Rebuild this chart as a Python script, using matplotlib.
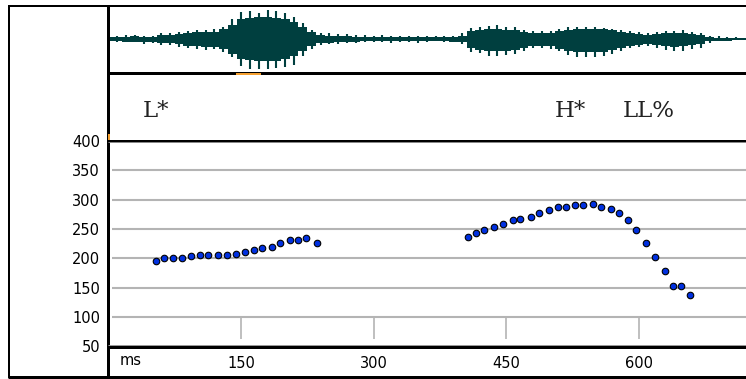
import matplotlib
matplotlib.use('Agg')
import matplotlib.pyplot as plt
from matplotlib.lines import Line2D

W, H = 746, 379

# pitch track (ms, Hz)
ms_1 = [54, 63, 73, 83, 94, 104, 113, 124, 134, 144, 154, 165, 174, 185, 194, 205, 215, 224, 236]
hz_1 = [196, 201, 201, 200, 204, 205, 205, 205, 205, 207, 211, 215, 218, 220, 227, 231, 231, 235, 227]
ms_2 = [407, 416, 425, 436, 446, 457, 466, 478, 487, 498, 508, 518, 528, 537, 548, 557, 568, 577,
        588, 597, 608, 618, 629, 638, 647, 658]
hz_2 = [237, 243, 248, 254, 258, 265, 268, 271, 278, 282, 288, 288, 291, 291, 292, 288, 285, 278,
        265, 248, 227, 203, 179, 153, 153, 137]

# tone labels
tone_text = ['L*', 'H*', 'LL%']
tone_ms = [39, 505, 582]

y_ticks = [400, 350, 300, 250, 200, 150, 100, 50]
x_ticks = [150, 300, 450, 600]

# waveform envelope every 10 ms (pixels above / below the centre line)
wave_ms = [0, 10, 20, 30, 40, 50, 60, 70, 80, 90,
           100, 110, 120, 130, 140, 150, 160, 170, 180, 190,
           200, 210, 220, 230, 240, 250, 260, 270, 280, 290,
           300, 310, 320, 330, 340, 350, 360, 370, 380, 390,
           400, 410, 420, 430, 440, 450, 460, 470, 480, 490,
           500, 510, 520, 530, 540, 550, 560, 570, 580, 590,
           600, 610, 620, 630, 640, 650, 660, 670, 680, 690,
           700, 710, 720]
body_top = [2, 2, 2.5, 3, 2.5, 2.5, 4, 4, 5, 6,
            7, 7, 7, 10, 14, 20, 21, 22, 22, 21,
            20, 17, 12, 7, 4, 3.5, 3.5, 3, 2.5, 2,
            2, 2, 2, 2, 2, 2, 2, 2, 2, 2,
            3, 8, 9, 10, 10, 9, 9, 7, 6, 6,
            6, 8, 9, 10, 10, 10, 10, 9, 7, 6,
            5, 4, 5, 6, 6, 6, 5, 4, 2, 1.5,
            1.5, 1, 1]
body_bot = [2, 2, 2.5, 2.5, 2.5, 3, 4, 4, 5, 7,
            7, 8, 8, 10, 15, 20, 21, 22, 22, 22,
            20, 17, 12, 7, 4, 3.5, 3, 3, 2.5, 2,
            2, 2, 2, 2, 2, 2, 2, 2, 2, 2.5,
            3, 9, 11, 12, 12, 12, 11, 9, 7, 7,
            7, 10, 12, 13, 13, 13, 13, 11, 9, 7,
            6, 5, 6, 7, 8, 7, 6, 5, 2, 1.5,
            1.5, 1, 1]
peak_top = [2, 3, 4, 4, 3, 3, 6, 6, 7, 8,
            9, 9, 10, 12, 20, 27, 28, 26, 29, 28,
            26, 22, 16, 9, 6, 6, 5, 5, 4, 4,
            3, 4, 3, 3, 3, 3, 3, 3, 3, 3,
            6, 11, 12, 13, 14, 12, 12, 9, 8, 8,
            8, 10, 12, 12, 12, 12, 11, 10, 9, 8,
            7, 6, 7, 8, 8, 9, 7, 6, 3, 3,
            2, 2, 1]
peak_bot = [2, 3, 2, 3, 5, 4, 6, 6, 8, 9,
            10, 11, 10, 13, 18, 27, 30, 30, 30, 29,
            28, 26, 17, 10, 6, 5, 5, 4, 4, 3,
            3, 3, 4, 3, 3, 4, 3, 2, 3, 3,
            5, 13, 14, 17, 17, 16, 15, 12, 9, 9,
            10, 12, 16, 18, 18, 18, 17, 15, 12, 9,
            8, 7, 9, 11, 12, 12, 10, 9, 4, 2,
            2, 1, 1]

WAVE = '#003f3f'
GRID = '#b4b4b4'
MS_MAX = 721

fig = plt.figure(figsize=(W / 100, H / 100), dpi=100)
fig.patch.set_facecolor('white')


def px_axes(x0, y0, x1, y1):
    return fig.add_axes([x0 / W, 1 - y1 / H, (x1 - x0) / W, (y1 - y0) / H])


def hline(y, x0, x1, lw, color='black'):
    fig.add_artist(Line2D([x0 / W, x1 / W], [1 - y / H, 1 - y / H], lw=lw * 0.72,
                          color=color, solid_capstyle='butt'))


def vline(x, y0, y1, lw, color='black'):
    fig.add_artist(Line2D([x / W, x / W], [1 - y0 / H, 1 - y1 / H], lw=lw * 0.72,
                          color=color, solid_capstyle='butt'))


# waveform panel
ax_w = px_axes(108.3, 7, W, 71)
ax_w.set_xlim(0, MS_MAX)
ax_w.set_ylim(-31.7, 32.3)
ax_w.axis('off')
ax_w.fill_between(wave_ms, [-b for b in body_bot], body_top, color=WAVE, lw=0, step='mid')
ax_w.vlines(wave_ms, [-b for b in peak_bot], peak_top, color=WAVE, lw=1.5)

# tone label panel
ax_l = px_axes(108.3, 71, W, 141)
ax_l.set_xlim(0, MS_MAX)
ax_l.set_ylim(141, 71)
ax_l.axis('off')
for t, m in zip(tone_text, tone_ms):
    ax_l.text(m, 117, t, family='DejaVu Serif', fontsize=16.5, va='baseline', ha='left',
              color='#222222')

# pitch panel
ax = px_axes(108.3, 141, W, 346.5)
ax.set_xlim(0, MS_MAX)
ax.set_ylim(50, 400)
for s in ax.spines.values():
    s.set_visible(False)
ax.hlines(y_ticks[1:-1], 4, MS_MAX, color=GRID, lw=1.5)
ax.vlines(x_ticks, 62, 100, color=GRID, lw=1.2)
ax.plot(ms_1, hz_1, 'o', ms=4.7, mfc='#0030e0', mec='black', mew=0.8)
ax.plot(ms_2, hz_2, 'o', ms=4.7, mfc='#0030e0', mec='black', mew=0.8)
ax.set_yticks(y_ticks)
ax.set_yticklabels([str(v) for v in y_ticks])
ax.set_xticks(x_ticks)
ax.set_xticklabels([str(v) for v in x_ticks])
ax.tick_params(axis='y', length=0, pad=6, labelsize=10.5)
ax.tick_params(axis='x', length=0, pad=7, labelsize=10.5)
ax.text(13, -0.03, 'ms', transform=ax.get_xaxis_transform(), fontsize=10.5,
        ha='left', va='top')

# frame lines
vline(9, 5, 378, 2)
hline(6, 8, W, 2)
vline(108.3, 5, 378, 3)
hline(72.5, 108, W, 3)
hline(140.5, 108, W, 3)
hline(142.5, 108, W, 1, color='#888888')
hline(344.5, 108, W, 1, color='#999999')
hline(346.8, 108, W, 3)
hline(376.5, 8, W, 3)

# cursor marks
hline(73.5, 236, 261, 2, color='#f5a030')
vline(108.6, 134, 140, 2, color='#f5a030')

fig.savefig('out.png', dpi=100, facecolor='white')
